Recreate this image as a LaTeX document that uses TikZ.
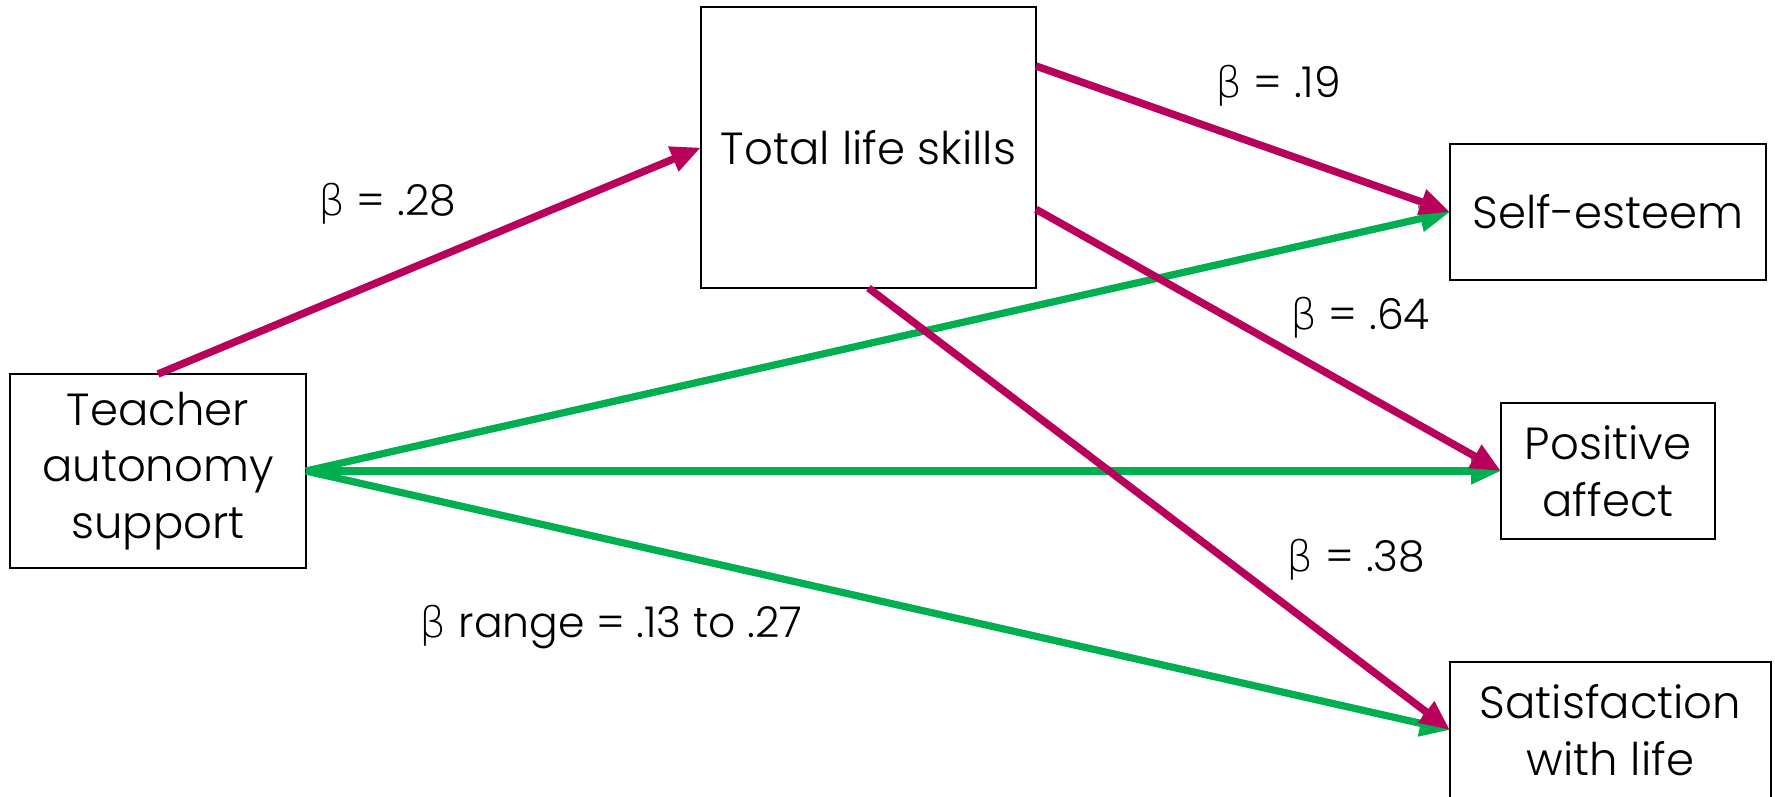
\documentclass[tikz,border=0pt]{standalone}
\usepackage{fontspec}
\setmainfont{Poppins}[UprightFont={* Light}]
\newfontfamily\greekfont{DejaVu Sans}[UprightFont={* ExtraLight}]
\usetikzlibrary{arrows.meta,calc}

\definecolor{cb9005a}{RGB}{185,0,90}
\definecolor{c00b050}{RGB}{0,176,80}
\newcommand{\bt}{{\greekfont β}}

\begin{document}
\begin{tikzpicture}[y=0.40pt, x=0.40pt, yscale=-1.000000, xscale=1.000000, inner sep=0pt, outer sep=0pt,
  box/.style={draw=black, line width=0.8pt, align=center, font=\fontsize{18}{22.6}\selectfont},
  coef/.style={font=\fontsize{17}{20}\selectfont},
  pathred/.style={draw=cb9005a, line width=3pt, -{Triangle[length=12pt,width=10pt]}},
  pathgreen/.style={draw=c00b050, line width=2.9pt, -{Triangle[length=12pt,width=10pt]}}]
\useasboundingbox (0,0) rectangle (1775,796);

% boxes
\node[box, minimum width=118.4pt, minimum height=77.6pt] (teacher) at (158,471)
  {Teacher\\autonomy\\support};
\node[box, minimum width=134pt, minimum height=112.4pt] (total) at (868.5,147.5)
  {Total life skills};
\node[box, minimum width=126.4pt, minimum height=54.4pt] (selfest) at (1608,212)
  {Self-esteem};
\node[box, minimum width=85.6pt, minimum height=54.4pt] (posaff) at (1608,471)
  {Positive\\affect};
\node[box, minimum width=128.4pt, minimum height=54.4pt] (satlife) at (1610.5,730)
  {Satisfaction\\with life};

% direct paths
\draw[pathgreen] (teacher.east) -- (selfest.west);
\draw[pathgreen] (teacher.east) -- (posaff.west);
\draw[pathgreen] (teacher.east) -- (satlife.west);

% paths through life skills
\draw[pathred] (teacher.north) -- (total.west);
\draw[pathred] ($(total.north east)!0.21!(total.south east)$) -- (selfest.west);
\draw[pathred] ($(total.north east)!0.72!(total.south east)$) -- (posaff.west);
\draw[pathred] (total.south) -- (satlife.west);

% coefficients
\node[coef] (b28) at (387,204) {\bt{} = .28};
\node[coef] (b19) at (1278,86) {\bt{} = .19};
\node[coef] (b64) at (1360,318) {\bt{} = .64};
\node[coef] (b38) at (1356,560) {\bt{} = .38};
\node[coef] (brange) at (611,627) {\bt{} range = .13 to .27};

\end{tikzpicture}
\end{document}
